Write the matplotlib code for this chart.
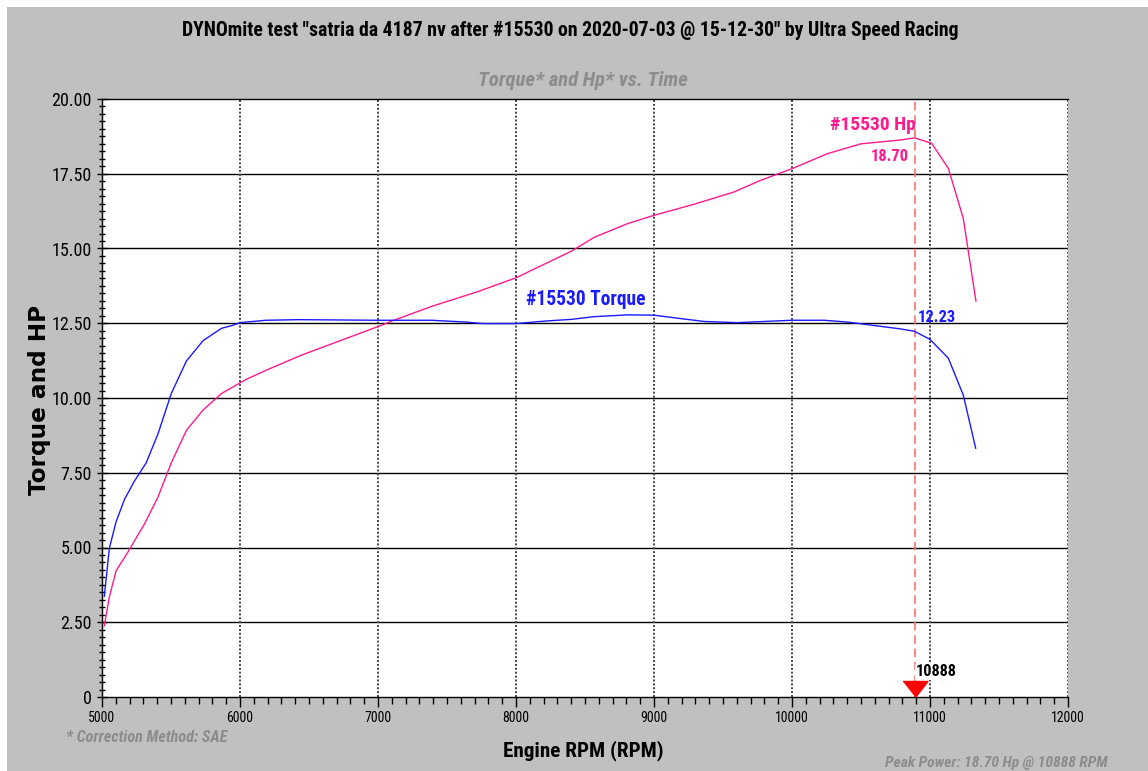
import numpy as np
import matplotlib
matplotlib.use("Agg")
import matplotlib.pyplot as plt
from matplotlib import font_manager
from matplotlib.patches import Rectangle
from matplotlib.ticker import MultipleLocator, FuncFormatter

# torque curve (blue)
tq_rpm = [5017, 5053, 5102, 5163, 5235, 5320, 5405, 5502, 5612, 5733, 5866, 5947,
          6000, 6188, 6430, 7000, 7386, 7638, 7758, 8000, 8232, 8401, 8565, 8807,
          9000, 9169, 9362, 9604, 10000, 10232, 10401, 10570, 10787, 10888, 11000,
          11133, 11241, 11331]
tq_val = [3.37, 4.97, 5.86, 6.61, 7.22, 7.83, 8.79, 10.15, 11.24, 11.92, 12.33, 12.43,
          12.52, 12.60, 12.62, 12.60, 12.60, 12.54, 12.49, 12.49, 12.58, 12.63, 12.72, 12.78,
          12.77, 12.67, 12.56, 12.52, 12.60, 12.60, 12.54, 12.44, 12.31, 12.23, 11.96,
          11.33, 10.10, 8.32]

# hp curve (pink)
hp_rpm = [5017, 5053, 5102, 5187, 5308, 5405, 5502, 5612, 5733, 5866, 6043, 6200,
          6449, 7000, 7121, 7386, 7725, 8000, 8401, 8565, 8807, 9000, 9290, 9580,
          9773, 10000, 10256, 10498, 10787, 10888, 11012, 11133, 11241, 11333]
hp_val = [2.38, 3.34, 4.22, 4.84, 5.79, 6.68, 7.83, 8.92, 9.60, 10.15, 10.62, 10.95,
          11.44, 12.39, 12.61, 13.06, 13.56, 14.02, 14.91, 15.37, 15.83, 16.11, 16.48, 16.89,
          17.28, 17.67, 18.17, 18.50, 18.63, 18.70, 18.52, 17.68, 16.01, 13.24]

peak_rpm = 10888
peak_hp = 18.70
peak_tq = 12.23

# look for a narrow face, otherwise an Arial-like one
names = {f.name for f in font_manager.fontManager.ttflist}
narrow_name = 'Liberation Sans'
for cand in ['Liberation Sans Narrow', 'Arial Narrow', 'Roboto Condensed',
             'Open Sans Condensed', 'DejaVu Sans Condensed']:
    if cand in names:
        narrow_name = cand
        break
narrow = [narrow_name, 'DejaVu Sans']
gray_txt = '#8c8c8c'

fig = plt.figure(figsize=(11.48, 7.71), dpi=100)
fig.patch.set_facecolor('white')
fig.patches.append(Rectangle((7 / 1148, 0), 1, 1 - 7 / 771, transform=fig.transFigure,
                             facecolor='#c0c0c0', edgecolor='none', zorder=-10))
renderer = fig.canvas.get_renderer()


def fit(t, size_px, vertical=False):
    # scale a text so it spans about size_px pixels
    bb = t.get_window_extent(renderer)
    w = bb.height if vertical else bb.width
    if w > 0:
        t.set_fontsize(t.get_fontsize() * size_px / w)
    return t


ax = fig.add_axes([102 / 1148, 1 - 697 / 771, 966 / 1148, 598 / 771])
ax.set_facecolor('white')
ax.set_xlim(5000, 12000)
ax.set_ylim(0, 20)

# grid
for yv in np.arange(2.5, 20, 2.5):
    ax.axhline(yv, color='black', lw=1.0, zorder=1)
for xv in range(6000, 12001, 1000):
    ax.axvline(xv, color='#444444', lw=1.4, ls=(0, (1, 1)), zorder=1)

ax.plot(hp_rpm, hp_val, color='#ff1a8c', lw=1.0, zorder=3)
ax.plot(tq_rpm, tq_val, color='#1a1aff', lw=1.0, zorder=3)

# peak marker
ax.axvline(peak_rpm, color='#ff7070', lw=1.2, ls=(0, (5, 3)), zorder=2)
ax.plot([peak_rpm], [0.27], marker=[(-12.5, 8), (12.5, 8), (0, -8)], color='#ff0000',
        markersize=18, zorder=5, clip_on=False, lw=0)

fit(ax.text(peak_rpm + 10, 0.84, str(peak_rpm), family=narrow, fontweight='bold',
            fontsize=12, ha='left', va='center', color='black', zorder=4,
            bbox=dict(facecolor='white', edgecolor='none', pad=0.5)), 41)
fit(ax.text(10585, 19.13, '#15530 Hp', family=narrow, fontweight='bold',
            fontsize=14, color='#ff1a8c', ha='center', va='center'), 86)
fit(ax.text(10845, 18.09, '%.2f' % peak_hp, family=narrow, fontweight='bold',
            fontsize=12, color='#ff1a8c', ha='right', va='center'), 38)
fit(ax.text(8504, 13.28, '#15530 Torque', family=narrow, fontweight='bold',
            fontsize=14, color='#1a1aff', ha='center', va='center'), 120)
fit(ax.text(peak_rpm + 20, 12.68, '%.2f' % peak_tq, family=narrow, fontweight='bold',
            fontsize=12, color='#1a1aff', ha='left', va='center'), 38)

# spines
for s in ['left', 'bottom', 'top']:
    ax.spines[s].set_color('black')
    ax.spines[s].set_linewidth(1.0)
ax.spines['right'].set_visible(False)

ax.xaxis.set_major_locator(MultipleLocator(1000))
ax.xaxis.set_minor_locator(MultipleLocator(100))
ax.yaxis.set_major_locator(MultipleLocator(2.5))
ax.yaxis.set_minor_locator(MultipleLocator(0.25))
ax.yaxis.set_major_formatter(FuncFormatter(lambda v, p: '0' if v == 0 else '%.2f' % v))
ax.tick_params(axis='x', which='major', direction='out', length=7, width=1, pad=3)
ax.tick_params(axis='x', which='minor', direction='out', length=5, width=1)
ax.tick_params(axis='y', which='major', direction='inout', length=7, width=1, pad=4)
ax.tick_params(axis='y', which='minor', direction='inout', length=4, width=1)
fig.canvas.draw()
for lab in ax.get_yticklabels():
    lab.set_family(narrow)
fit(ax.get_yticklabels()[-1], 40)
ylab_size = ax.get_yticklabels()[-1].get_fontsize()
for lab in ax.get_yticklabels():
    lab.set_fontsize(ylab_size)
for lab in ax.get_xticklabels():
    lab.set_family(narrow)
fit(ax.get_xticklabels()[-1], 34)
xlab_size = ax.get_xticklabels()[-1].get_fontsize()
for lab in ax.get_xticklabels():
    lab.set_fontsize(xlab_size)

fit(fig.text(570 / 1148, 1 - 30 / 771,
             'DYNOmite test "satria da 4187 nv after #15530 on 2020-07-03 @ 15-12-30" by Ultra Speed Racing',
             family=narrow, fontweight='bold', fontsize=15, ha='center', va='center'), 780)
fit(fig.text(583 / 1148, 1 - 80 / 771, 'Torque* and Hp* vs. Time', family=narrow,
             fontweight='bold', style='italic', fontsize=15, color=gray_txt,
             ha='center', va='center'), 210)
fit(fig.text(583 / 1148, 1 - 751 / 771, 'Engine RPM (RPM)', family=narrow,
             fontweight='bold', fontsize=16, ha='center', va='center'), 160)
fit(fig.text(40 / 1148, 1 - 400 / 771, 'Torque and HP', family='DejaVu Sans',
             fontweight='bold', fontsize=14, rotation=90, ha='center', va='center'),
    190, vertical=True)
fit(fig.text(66 / 1148, 1 - 737 / 771, '* Correction Method: SAE', family=narrow,
             fontweight='bold', style='italic', fontsize=12, color=gray_txt,
             ha='left', va='center'), 161)
fit(fig.text(1108 / 1148, 1 - 763 / 771, 'Peak Power: 18.70 Hp @ 10888 RPM', family=narrow,
             fontweight='bold', style='italic', fontsize=12, color=gray_txt,
             ha='right', va='center'), 221)

fig.savefig('out.png', dpi=100)
